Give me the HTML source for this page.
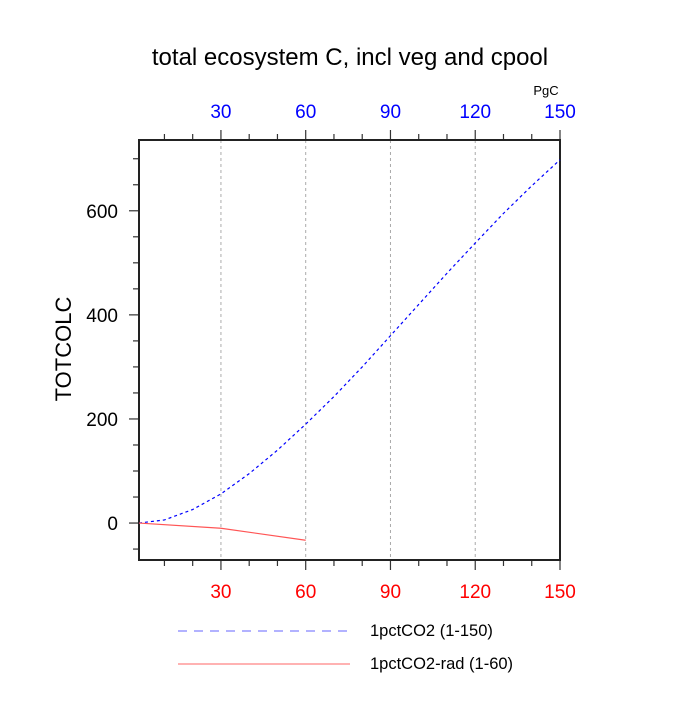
<!DOCTYPE html>
<html><head><meta charset="utf-8"><style>
body{margin:0;background:#fff;}
svg text{font-family:"Liberation Sans",Arial,sans-serif;}
</style></head><body>
<svg id="c" width="700" height="700" xmlns="http://www.w3.org/2000/svg">
<text x="350" y="65" font-size="24" text-anchor="middle">total ecosystem C, incl veg and cpool</text>
<text x="71" y="349" font-size="22" text-anchor="middle" transform="rotate(-90 71 349)">TOTCOLC</text>
<text x="546" y="95" font-size="13" text-anchor="middle">PgC</text>
<g id="g"></g>
</svg>
<script>
const xTicks=[30,60,90,120,150];
const yTicks=[0,200,400,600];
const blueX=[1,10,20,30,40,50,60,70,80,90,100,110,120,130,140,150];
const blueY=[0,6,26,56,95,140,190,243,300,360,420,480,538,595,648,698];
const redX=[1,30,60];
const redY=[0,-10,-33];
const L=139,R=560,T=140,B=560,xmin=1,xmax=150,ymin=-71,ymax=736;
const sx=v=>L+(v-xmin)/(xmax-xmin)*(R-L);
const sy=v=>B-(v-ymin)/(ymax-ymin)*(B-T);
const g=document.getElementById('g');
const NS='http://www.w3.org/2000/svg';
function mk(t,a,txt){const e=document.createElementNS(NS,t);for(const k in a)e.setAttribute(k,a[k]);if(txt!==undefined)e.textContent=txt;g.appendChild(e);return e;}
xTicks.forEach(v=>{
 if(v<150){const e=mk('line',{x1:sx(v),x2:sx(v),y1:T,y2:B,stroke:'#aaa','stroke-dasharray':'3,3'});
 
 }
 const b=mk('text',{x:sx(v),y:598,'font-size':19,'text-anchor':'middle',fill:'#f00'},v);
 
 
 const t=mk('text',{x:sx(v),y:118,'font-size':19,'text-anchor':'middle',fill:'#00f'},v);
 
 
});
for(let v=10;v<=150;v+=10){const len=v%30===0?10:6;
 mk('line',{x1:sx(v),x2:sx(v),y1:B,y2:B+len,stroke:'#333','stroke-width':1.2});
 mk('line',{x1:sx(v),x2:sx(v),y1:T,y2:T-len,stroke:'#333','stroke-width':1.2});}
for(let v=-50;v<=700;v+=50){const len=v%200===0?10:6;
 mk('line',{x1:L,x2:L-len,y1:sy(v),y2:sy(v),stroke:'#333','stroke-width':1.2});}
yTicks.forEach(v=>{const e=mk('text',{x:118,y:sy(v)+7,'font-size':19,'text-anchor':'end'},v);
 
 });
const fr=mk('rect',{x:L,y:T,width:R-L,height:B-T,fill:'none',stroke:'#222','stroke-width':2});


const bl=mk('polyline',{points:blueX.map((x,i)=>sx(x)+','+sy(blueY[i])).join(' '),fill:'none',stroke:'#00f','stroke-width':1.2,'stroke-dasharray':'3,3'});


const rl=mk('polyline',{points:redX.map((x,i)=>sx(x)+','+sy(redY[i])).join(' '),fill:'none',stroke:'#f55','stroke-width':1.2});


const l1=mk('line',{x1:178,x2:350,y1:631,y2:631,stroke:'#66f','stroke-width':1,'stroke-dasharray':'9,7'});


const t1=mk('text',{x:370,y:636,'font-size':16.5},'1pctCO2 (1-150)');


const l2=mk('line',{x1:178,x2:350,y1:664,y2:664,stroke:'#f66','stroke-width':1});


const t2=mk('text',{x:370,y:669,'font-size':16.5},'1pctCO2-rad (1-60)');


</script>
</body></html>
